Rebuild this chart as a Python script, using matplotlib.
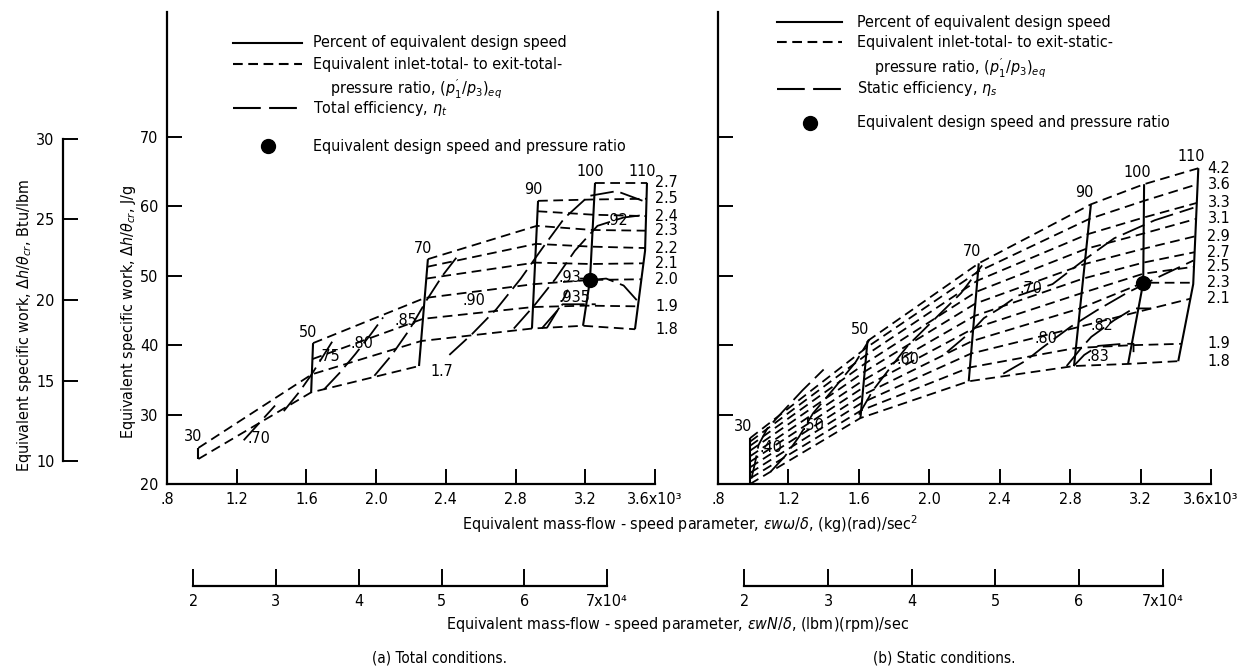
import numpy as np
import matplotlib
matplotlib.use("Agg")
import matplotlib.pyplot as plt
from matplotlib.lines import Line2D
from matplotlib import font_manager as fm

# the scan uses a tall narrow lettering: pick a condensed face when one exists
installed = {f.name for f in fm.fontManager.ttflist}
dejavu_cond = any(f.name == "DejaVu Sans" and "Condensed" in f.fname
                  for f in fm.fontManager.ttflist)
if "Liberation Sans Narrow" in installed:
    FAMILY, FS = "Liberation Sans Narrow", 12
elif dejavu_cond:
    FAMILY, FS = "DejaVu Sans", 11.5
    plt.rcParams['font.stretch'] = 'condensed'
else:
    FAMILY, FS = "DejaVu Sans", 10.5

plt.rcParams['font.family'] = [FAMILY, 'DejaVu Sans']
plt.rcParams['font.size'] = FS
plt.rcParams['mathtext.fontset'] = 'custom'
plt.rcParams['mathtext.rm'] = FAMILY
plt.rcParams['mathtext.it'] = FAMILY + ':italic'
plt.rcParams['lines.scale_dashes'] = False

W, H = 1242, 668
J_PER_BTU = 2.326
RPM_TO_RAD = 0.45359237 * 2 * np.pi / 60 / 1000   # (lbm)(rpm)/sec -> 10^3 (kg)(rad)/sec^2

speeds = ["30", "50", "70", "90", "100", "110"]

# ---------------- (a) total conditions ----------------
tot_speed_flow = [[0.98, 0.98], [1.638, 1.627], [2.297, 2.246], [2.929, 2.894],
                  [3.256, 3.227, 3.187], [3.554, 3.543, 3.485]]
tot_speed_work = [[25.2, 23.6], [40.3, 33.2], [52.4, 37.0], [60.8, 42.4],
                  [63.4, 49.4, 42.8], [63.4, 53.6, 42.3]]

nan = np.nan
tot_pr = ["1.7", "1.8", "1.9", "2.0", "2.1", "2.2", "2.3", "2.4", "2.5", "2.7"]
tot_pr_work = [
    [23.6, 33.2, 37.0, nan, nan, nan],
    [25.2, 35.8, 40.6, 42.4, 42.8, 42.3],
    [nan, 38.0, 43.8, 45.5, 45.7, 45.6],
    [nan, 40.3, 46.8, 48.8, 49.4, 49.5],
    [nan, nan, 49.6, 51.9, 51.7, 51.8],
    [nan, nan, 51.3, 54.6, 54.2, 54.0],
    [nan, nan, 52.4, 57.2, 56.6, 56.5],
    [nan, nan, nan, 59.3, 58.8, 58.6],
    [nan, nan, nan, 60.8, 61.0, 61.1],
    [nan, nan, nan, nan, 63.4, 63.4],
]

tot_eff = [".70", ".75", ".80", ".85", ".90", ".92", ".93", ".935"]
tot_eff_flow = [
    [1.24, 1.33, 1.42],
    [1.47, 1.56, 1.63, 1.70, 1.76],
    [1.70, 1.79, 1.88, 1.97, 2.04],
    [1.99, 2.09, 2.19, 2.29, 2.38, 2.46],
    [2.42, 2.55, 2.69, 2.83, 2.96, 3.08, 3.22, 3.38, 3.53],
    [2.79, 2.91, 3.03, 3.14, 3.27, 3.42, 3.55],
    [2.98, 3.05, 3.10, nan, 3.17, 3.22],
    [2.95, 3.04, 3.07, 3.26, nan, 3.23, 3.32, 3.42, 3.52],
]
tot_eff_work = [
    [26.3, 28.8, 31.3],
    [30.5, 33.3, 35.8, 38.6, 41.0],
    [33.6, 36.0, 38.7, 41.6, 44.0],
    [35.6, 38.6, 42.2, 46.5, 50.0, 52.6],
    [38.6, 41.6, 45.2, 49.6, 54.2, 58.3, 61.5, 62.2, 60.8],
    [42.4, 45.8, 49.6, 53.6, 57.2, 58.4, 58.8],
    [42.5, 45.4, 48.0, nan, 49.6, 49.6],
    [42.4, 45.0, 45.9, 45.9, nan, 49.4, 49.6, 48.6, 45.8],
]
tot_eff_lab_flow = [1.33, 1.73, 1.92, 2.17, 2.56, 3.38, 3.11, 3.14]
tot_eff_lab_work = [26.5, 38.4, 40.3, 43.5, 46.4, 57.9, 49.8, 46.9]
tot_design = (3.227, 49.4)

# ---------------- (b) static conditions ----------------
sta_speed_flow = [[0.982, 0.982], [1.649, 1.609], [2.281, 2.224], [2.918, 2.822],
                  [3.220, 3.215, 3.129], [3.528, 3.499, 3.414]]
sta_speed_work = [[26.6, 20.0], [40.6, 29.5], [51.8, 34.8], [60.3, 37.0],
                  [63.2, 49.0, 37.3], [65.5, 48.8, 37.7]]

sta_pr = ["1.8", "1.9", "2.1", "2.3", "2.5", "2.7", "2.9", "3.1", "3.3", "3.6", "4.2"]
sta_pr_work = [
    [20.0, 29.5, 34.8, 37.0, 37.3, 37.7],
    [20.8, 30.6, 36.8, 39.6, 40.0, 40.2],
    [21.6, 31.7, 38.8, 42.6, 44.8, 46.7],
    [22.4, 32.8, 40.6, 45.3, 49.0, 49.0],
    [23.2, 33.9, 42.4, 47.5, 50.3, 51.3],
    [24.0, 35.0, 44.2, 49.6, 51.9, 53.4],
    [24.8, 36.2, 46.0, 51.7, 53.9, 55.7],
    [25.5, 37.4, 47.7, 53.9, 56.1, 58.2],
    [26.1, 38.6, 49.3, 56.0, 58.4, 60.5],
    [26.6, 39.7, 50.6, 58.2, 60.8, 63.2],
    [nan, 40.6, 51.8, 60.3, 63.2, 65.5],
]

sta_eff = [".40", ".50", ".60", ".70", ".80", ".82", ".83"]
sta_eff_flow = [
    [0.99, 1.01, 1.03, 1.08, 1.17, 1.28, 1.40],
    [1.10, 1.18, 1.26, 1.34, 1.45, 1.58, 1.66],
    [1.60, 1.68, 1.78, 1.88, 2.02, 2.18, 2.30],
    [2.10, 2.24, 2.31, 2.40, 2.50, 2.70, 2.88, 3.05, 3.28, 3.50],
    [2.42, 2.55, 2.64, 2.80, 2.95, 3.12, 3.30, 3.50],
    [2.78, 2.86, 2.92, 3.05, 3.16, 3.26],
    [2.82, 2.88, 2.96, 3.10, 3.16, 3.16],
]
sta_eff_work = [
    [20.8, 23.0, 25.6, 28.0, 30.5, 33.5, 36.5],
    [21.8, 24.0, 26.8, 30.2, 33.5, 37.5, 40.8],
    [30.0, 33.5, 36.8, 40.0, 43.5, 47.5, 51.5],
    [39.0, 42.0, 43.9, 45.3, 47.1, 48.8, 52.3, 55.4, 58.0, 59.8],
    [35.9, 37.8, 39.6, 42.6, 45.0, 47.5, 49.8, 52.2],
    [37.0, 39.5, 41.2, 43.6, 45.3, 45.3],
    [37.0, 38.6, 39.9, 40.2, 40.2, 39.0],
]
sta_eff_lab_flow = [1.10, 1.34, 1.88, 2.58, 2.66, 2.98, 2.96]
sta_eff_lab_work = [25.2, 28.4, 38.0, 48.1, 40.9, 42.8, 38.4]
sta_design = (3.215, 49.0)

flow_ticks = [0.8, 1.2, 1.6, 2.0, 2.4, 2.8, 3.2, 3.6]
flow_labels = [".8", "1.2", "1.6", "2.0", "2.4", "2.8", "3.2", "3.6x10\u00b3"]
lbm_ticks = [2, 3, 4, 5, 6, 7]          # x10^4 (lbm)(rpm)/sec
lbm_labels = ["2", "3", "4", "5", "6", "7x10\u2074"]
work_ticks = [20, 30, 40, 50, 60, 70]
btu_ticks = [10, 15, 20, 25, 30]

SHORT = (7, 4)
LONG = (17, 5)


def fx(px):
    return px / W


def fy(py):
    return 1 - py / H


def along(flows, works, w):
    order = np.argsort(works)
    return np.interp(w, np.array(works)[order], np.array(flows)[order])


def draw_map(ax, sp_flow, sp_work, pr_names, pr_work, eff_names, eff_flow, eff_work,
             lab_f, lab_w, design, sp_lab_dx, sp_lab_dy):
    for f, w, name in zip(sp_flow, sp_work, speeds):
        ax.plot(f, w, color="black", lw=1.5, solid_capstyle="butt")
        i = int(np.argmax(w))
        ax.text(f[i] + sp_lab_dx, w[i] + sp_lab_dy, name, ha="center", va="bottom")
    for name, row in zip(pr_names, pr_work):
        row = np.array(row)
        fl = np.array([along(sp_flow[k], sp_work[k], row[k]) if not np.isnan(row[k]) else nan
                       for k in range(len(speeds))])
        ok = ~np.isnan(row)
        ax.plot(fl[ok], row[ok], color="black", lw=1.3, ls=(0, SHORT))
    for f, w in zip(eff_flow, eff_work):
        ax.plot(f, w, color="black", lw=1.3, ls=(0, LONG))
    for name, f, w in zip(eff_names, lab_f, lab_w):
        ax.text(f, w, name, ha="center", va="center")
    ax.plot([design[0]], [design[1]], "o", color="black", ms=10)


def style_axes(ax, show_ylabels):
    ax.set_xlim(0.8, 3.6)
    ax.set_ylim(20, 20 + 472 / 6.94)
    for s in ("top", "right"):
        ax.spines[s].set_visible(False)
    for s in ("left", "bottom"):
        ax.spines[s].set_linewidth(1.6)
    ax.set_xticks(flow_ticks)
    ax.set_xticklabels(flow_labels)
    ax.set_yticks(work_ticks)
    if show_ylabels:
        ax.set_yticklabels([str(v) for v in work_ticks])
    else:
        ax.set_yticklabels([])
    ax.tick_params(direction="in", length=11, width=1.4, labelsize=FS)
    ax.tick_params(axis="x", pad=6)
    ax.tick_params(axis="y", pad=6)


def lbm_axis(left_px, width_px):
    bx = fig.add_axes([fx(left_px), fy(586), width_px / W, 0.0005])
    bx.set_xlim(0.8, 3.6)
    bx.set_yticks([])
    for s in ("top", "right", "left"):
        bx.spines[s].set_visible(False)
    pos = [v * 1e4 * RPM_TO_RAD for v in lbm_ticks]
    bx.spines["bottom"].set_linewidth(1.6)
    bx.spines["bottom"].set_bounds(pos[0], pos[-1])
    bx.set_xticks(pos)
    bx.set_xticklabels(lbm_labels)
    bx.tick_params(direction="in", length=12, width=1.4, labelsize=FS, pad=6)
    bx.patch.set_visible(False)


fig = plt.figure(figsize=(W / 100, H / 100), dpi=100)
ax_bottom, ax_height = fy(484), (484 - 12) / H

axl = fig.add_axes([fx(167), ax_bottom, (655 - 167) / W, ax_height])
axr = fig.add_axes([fx(718), ax_bottom, (1211 - 718) / W, ax_height])
for a in (axl, axr):
    a.patch.set_visible(False)

style_axes(axl, True)
style_axes(axr, False)

draw_map(axl, tot_speed_flow, tot_speed_work, tot_pr, tot_pr_work, tot_eff,
         tot_eff_flow, tot_eff_work, tot_eff_lab_flow, tot_eff_lab_work, tot_design, -0.03, 0.5)
draw_map(axr, sta_speed_flow, sta_speed_work, sta_pr, sta_pr_work, sta_eff,
         sta_eff_flow, sta_eff_work, sta_eff_lab_flow, sta_eff_lab_work, sta_design, -0.04, 0.6)

# pressure-ratio labels at the 110 percent line
for name, row in zip(tot_pr, tot_pr_work):
    if not np.isnan(row[-1]):
        axl.text(3.60, row[-1], name, ha="left", va="center")
axl.text(2.31, 36.2, "1.7", ha="left", va="center")
for name, row in zip(sta_pr, sta_pr_work):
    axr.text(3.58, row[-1], name, ha="left", va="center")

# Btu/lbm scale
bt = fig.add_axes([fx(63), ax_bottom, 0.0005, ax_height])
bt.set_ylim(20 / J_PER_BTU, (20 + 472 / 6.94) / J_PER_BTU)
bt.set_xticks([])
for s in ("top", "right", "bottom"):
    bt.spines[s].set_visible(False)
bt.spines["left"].set_linewidth(1.6)
bt.spines["left"].set_bounds(btu_ticks[0], btu_ticks[-1])
bt.set_yticks(btu_ticks)
bt.tick_params(direction="in", length=11, width=1.4, labelsize=FS, pad=6)
bt.patch.set_visible(False)

lbm_axis(167, 655 - 167)
lbm_axis(718, 1211 - 718)

# axis titles
fig.text(fx(128), fy(312), r"Equivalent specific work, $\Delta h/\theta_{cr}$, J/g",
         rotation=90, ha="center", va="center")
fig.text(fx(25), fy(326), r"Equivalent specific work, $\Delta h/\theta_{cr}$, Btu/lbm",
         rotation=90, ha="center", va="center")
fig.text(fx(690), fy(524), r"Equivalent mass-flow - speed parameter, $\epsilon w\omega/\delta$, (kg)(rad)/sec$^2$",
         ha="center", va="center")
fig.text(fx(678), fy(625), r"Equivalent mass-flow - speed parameter, $\epsilon wN/\delta$, (lbm)(rpm)/sec",
         ha="center", va="center")
fig.text(fx(440), fy(658), "(a) Total conditions.", ha="center", va="center", fontsize=FS - 0.5)
fig.text(fx(944), fy(658), "(b) Static conditions.", ha="center", va="center", fontsize=FS - 0.5)


# legends
def legend(x0, x1, xt, ys, eff_text, pr_text):
    tf = fig.transFigure
    fig.add_artist(Line2D([fx(x0), fx(x1)], [fy(ys[0])] * 2, color="black", lw=1.5, transform=tf))
    fig.add_artist(Line2D([fx(x0), fx(x1)], [fy(ys[1])] * 2, color="black", lw=1.5,
                          ls=(0, SHORT), transform=tf))
    fig.add_artist(Line2D([fx(x0), fx(x1)], [fy(ys[3])] * 2, color="black", lw=1.5,
                          ls=(0, (20, 6)), transform=tf))
    fig.add_artist(Line2D([fx((x0 + x1) / 2)], [fy(ys[4])], marker="o", ms=10,
                          color="black", transform=tf))
    fig.text(fx(xt), fy(ys[0]), "Percent of equivalent design speed", va="center")
    fig.text(fx(xt), fy(ys[1]), pr_text, va="center")
    fig.text(fx(xt + 17), fy(ys[2] + 1), r"pressure ratio, $(p_1^{\prime}/p_3)_{eq}$", va="center")
    fig.text(fx(xt), fy(ys[3]), eff_text, va="center")
    fig.text(fx(xt), fy(ys[4]), "Equivalent design speed and pressure ratio", va="center")


legend(233, 302, 313, [43, 64, 88, 108, 146],
       r"Total efficiency, $\eta_t$", "Equivalent inlet-total- to exit-total-")
legend(777, 842, 857, [22, 42, 67, 89, 123],
       r"Static efficiency, $\eta_s$", "Equivalent inlet-total- to exit-static-")

fig.savefig("out.png", dpi=100)
